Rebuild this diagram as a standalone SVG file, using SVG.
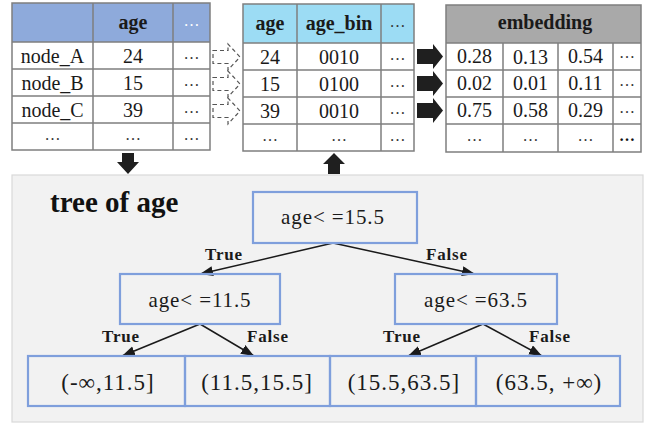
<svg xmlns="http://www.w3.org/2000/svg" width="646" height="426" viewBox="0 0 646 426">
  <defs>
    <style>
      .grid { fill: none; stroke: #7f7f7f; stroke-width: 1.5; }
      .cell { font-family: "Liberation Serif", "Times New Roman", serif; font-size: 20px; fill: #1a1a1a; text-anchor: middle; }
      .head { font-family: "Liberation Serif", "Times New Roman", serif; font-size: 20px; font-weight: bold; fill: #1a1a1a; text-anchor: middle; }
      .dots { font-family: "Liberation Serif", "Times New Roman", serif; font-size: 16px; fill: #333; text-anchor: middle; }
      .box { fill: none; stroke: #7f9fdc; stroke-width: 2.2; }
      .ttext { font-family: "Liberation Serif", "Times New Roman", serif; font-size: 21px; letter-spacing: 0.9px; fill: #1a1a1a; text-anchor: middle; }
      .leaf { font-family: "Liberation Serif", "Times New Roman", serif; font-size: 23px; letter-spacing: 1px; fill: #1a1a1a; text-anchor: middle; }
      .lbl { font-family: "Liberation Serif", "Times New Roman", serif; font-size: 17px; font-weight: bold; letter-spacing: 0.8px; fill: #1a1a1a; text-anchor: middle; }
      .edge { stroke: #1a1a1a; stroke-width: 1.5; fill: none; marker-end: url(#tip); }
      .hollow { fill: #ffffff; stroke: #555; stroke-width: 1.2; stroke-dasharray: 4 3; }
      .solid { fill: #1f1f1f; }
    </style>
    <marker id="tip" markerUnits="userSpaceOnUse" markerWidth="14" markerHeight="12" refX="13" refY="5" orient="auto">
      <path d="M0,0 L13,5 L0,10 Z" fill="#1a1a1a"/>
    </marker>
    <path id="dashArrow" d="M0,-6.5 H15 V-13 L27,0 L15,13 V6.5 H0 Z"/>
    <path id="blockArrow" d="M0,-7.5 H16 V-12.5 L26,0 L16,12.5 V7.5 H0 Z"/>
  </defs>

  <!-- node feature table -->
  <g id="table-nodes">
    <rect x="12" y="3" width="198" height="39" fill="#8eaadb"/>
    <rect x="12" y="42" width="198" height="108" fill="#ffffff"/>
    <path class="grid" d="M12,3 H210 V150 H12 Z M12,42 H210 M12,69 H210 M12,96 H210 M12,123 H210 M93,3 V150 M173,3 V150"/>
    <text class="head" x="133" y="29">age</text>
    <text class="dots" x="191.5" y="26" style="fill:#ffffff">…</text>
    <text class="cell" x="52.5" y="63">node_A</text>
    <text class="cell" x="133" y="63">24</text>
    <text class="dots" x="191.5" y="59">…</text>
    <text class="cell" x="52.5" y="90">node_B</text>
    <text class="cell" x="133" y="90">15</text>
    <text class="dots" x="191.5" y="86">…</text>
    <text class="cell" x="52.5" y="117">node_C</text>
    <text class="cell" x="133" y="117">39</text>
    <text class="dots" x="191.5" y="113">…</text>
    <text class="dots" x="52.5" y="140">…</text>
    <text class="dots" x="133" y="140">…</text>
    <text class="dots" x="191.5" y="140">…</text>
  </g>

  <!-- binned age table -->
  <g id="table-bins">
    <rect x="243" y="4" width="171" height="39" fill="#9cdcf4"/>
    <rect x="243" y="43" width="171" height="108" fill="#ffffff"/>
    <path class="grid" d="M243,4 H414 V151 H243 Z M243,43 H414 M243,70 H414 M243,97 H414 M243,124 H414 M297,4 V151 M381,4 V151"/>
    <text class="head" x="270" y="30">age</text>
    <text class="head" x="339" y="30">age_bin</text>
    <text class="dots" x="397.5" y="27">…</text>
    <text class="cell" x="270" y="64">24</text>
    <text class="cell" x="339" y="64">0010</text>
    <text class="dots" x="397.5" y="60">…</text>
    <text class="cell" x="270" y="91">15</text>
    <text class="cell" x="339" y="91">0100</text>
    <text class="dots" x="397.5" y="87">…</text>
    <text class="cell" x="270" y="118">39</text>
    <text class="cell" x="339" y="118">0010</text>
    <text class="dots" x="397.5" y="114">…</text>
    <text class="dots" x="270" y="141">…</text>
    <text class="dots" x="339" y="141">…</text>
    <text class="dots" x="397.5" y="141">…</text>
  </g>

  <!-- embedding table -->
  <g id="table-embedding">
    <rect x="446" y="5" width="195" height="38" fill="#a9a9a9"/>
    <rect x="446" y="43" width="195" height="109" fill="#ffffff"/>
    <path class="grid" d="M446,5 H641 V152 H446 Z M446,43 H641 M446,70 H641 M446,97 H641 M446,124 H641 M503,43 V152 M558,43 V152 M613,43 V152"/>
    <text class="head" x="545" y="29">embedding</text>
    <text class="cell" x="474.5" y="63">0.28</text>
    <text class="cell" x="530.5" y="64">0.13</text>
    <text class="cell" x="585.5" y="63">0.54</text>
    <text class="dots" x="627" y="58">…</text>
    <text class="cell" x="474.5" y="90">0.02</text>
    <text class="cell" x="530.5" y="90">0.01</text>
    <text class="cell" x="585.5" y="90">0.11</text>
    <text class="dots" x="627" y="86">…</text>
    <text class="cell" x="474.5" y="117">0.75</text>
    <text class="cell" x="530.5" y="117">0.58</text>
    <text class="cell" x="585.5" y="117">0.29</text>
    <text class="dots" x="627" y="113">…</text>
    <text class="dots" x="474.5" y="141">…</text>
    <text class="dots" x="530.5" y="141">…</text>
    <text class="dots" x="585.5" y="141">…</text>
    <text class="dots" x="627" y="141" style="font-weight:bold;fill:#111">…</text>
  </g>

  <!-- row flow arrows between tables -->
  <g id="connectors">
    <use href="#dashArrow" class="hollow" x="213" y="57"/>
    <use href="#dashArrow" class="hollow" x="213" y="84"/>
    <use href="#dashArrow" class="hollow" x="213" y="111"/>
    <use href="#blockArrow" class="solid" x="417" y="56.5"/>
    <use href="#blockArrow" class="solid" x="417" y="83.5"/>
    <use href="#blockArrow" class="solid" x="417" y="110.5"/>
    <path class="solid" d="M122,153 H134 V162 H139 L128,174 L117,162 H122 Z"/>
    <path class="solid" d="M328,174 H340 V164 H345 L334,153 L323,164 H328 Z"/>
  </g>

  <!-- decision tree panel -->
  <g id="tree-panel">
    <rect x="12" y="175" width="631" height="247" fill="#f2f2f2" stroke="#d9d9d9" stroke-width="1.2"/>
    <text x="50" y="212" font-family="'Liberation Serif', 'Times New Roman', serif" font-size="29" font-weight="bold" fill="#111">tree of age</text>
  </g>

  <g id="tree-edges">
    <line class="edge" x1="333" y1="243" x2="200" y2="274"/>
    <line class="edge" x1="333" y1="243" x2="475" y2="274"/>
    <line class="edge" x1="200" y1="324" x2="122" y2="356"/>
    <line class="edge" x1="200" y1="324" x2="254" y2="356"/>
    <line class="edge" x1="483" y1="324" x2="408" y2="356"/>
    <line class="edge" x1="483" y1="324" x2="542" y2="356"/>
    <text class="lbl" x="224" y="260">True</text>
    <text class="lbl" x="447" y="260">False</text>
    <text class="lbl" x="121" y="342">True</text>
    <text class="lbl" x="268" y="342">False</text>
    <text class="lbl" x="402" y="342">True</text>
    <text class="lbl" x="550" y="342">False</text>
  </g>

  <g id="split-root">
    <rect class="box" x="253" y="192" width="164" height="51"/>
    <text class="ttext" x="333" y="224">age&lt; =15.5</text>
  </g>
  <g id="split-left">
    <rect class="box" x="120" y="274" width="160" height="50"/>
    <text class="ttext" x="200" y="307">age&lt; =11.5</text>
  </g>
  <g id="split-right">
    <rect class="box" x="395" y="274" width="162" height="50"/>
    <text class="ttext" x="476" y="307">age&lt; =63.5</text>
  </g>
  <g id="leaf-1">
    <rect class="box" x="28" y="356" width="157" height="50"/>
    <text class="leaf" x="108" y="390">(-∞,11.5]</text>
  </g>
  <g id="leaf-2">
    <rect class="box" x="185" y="356" width="145" height="50"/>
    <text class="leaf" x="257" y="390">(11.5,15.5]</text>
  </g>
  <g id="leaf-3">
    <rect class="box" x="330" y="356" width="146" height="50"/>
    <text class="leaf" x="404" y="390">(15.5,63.5]</text>
  </g>
  <g id="leaf-4">
    <rect class="box" x="476" y="356" width="144" height="50"/>
    <text class="leaf" x="549" y="390">(63.5, +∞)</text>
  </g>
</svg>
